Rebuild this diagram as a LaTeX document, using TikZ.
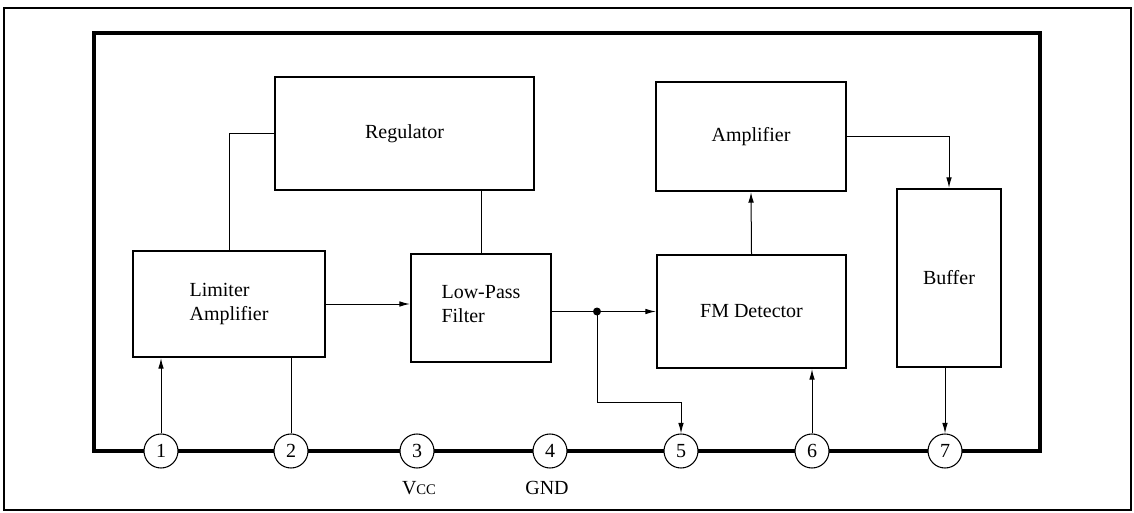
\documentclass[tikz,border=0pt]{standalone}
\usepackage{fontspec}
\setmainfont{Liberation Serif}
\usetikzlibrary{arrows.meta}
\tikzset{
  blk/.style={draw, line width=1.6pt, inner sep=0pt, font=\fontsize{15}{18}\selectfont, align=left},
  pin/.style={draw, circle, line width=0.8pt, fill=white, minimum size=25.5pt, inner sep=0pt, font=\fontsize{15}{18}\selectfont},
  wire/.style={line width=0.75pt},
  arr/.style={wire, -{Latex[length=8pt,width=4.2pt]}},
  lbl/.style={font=\fontsize{15}{18}\selectfont, inner sep=0pt}
}
\begin{document}
\begin{tikzpicture}[x=0.75pt,y=-0.75pt]
\useasboundingbox (0,0) rectangle (1134,513);
% outer frame
\draw[line width=1pt] (4,8) rectangle (1131,510);
% inner frame
\draw[line width=3pt] (94,33) rectangle (1040,451);
% blocks
\node[blk, minimum width=144pt, minimum height=79.5pt] (lim) at (229,304) {Limiter\\Amplifier};
\node[blk, minimum width=194.25pt, minimum height=84.75pt] (reg) at (404.5,133.5) {Regulator};
\node[blk, minimum width=105pt, minimum height=81pt] (lpf) at (481,308) {};
\node[lbl, align=left] (lpft) at (481,304) {Low-Pass\\Filter};
\node[blk, minimum width=141.75pt, minimum height=84.75pt] (fm) at (751.5,311.5) {FM Detector};
\node[blk, minimum width=142.5pt, minimum height=81.75pt] (amp) at (751,136.5) {Amplifier};
\node[blk, minimum width=78pt, minimum height=133.5pt] (buf) at (949,278) {Buffer};
% pins
\node[pin] (p1) at (161,451) {1};
\node[pin] (p2) at (291,451) {2};
\node[pin] (p3) at (417,451) {3};
\node[pin] (p4) at (550,451) {4};
\node[pin] (p5) at (681,451) {5};
\node[pin] (p6) at (812,451) {6};
\node[pin] (p7) at (945,451) {7};
\node[lbl] (vcc) at (419,488) {V{\fontsize{11}{12}\selectfont CC}};
\node[lbl] (gnd) at (547,488) {GND};
% connectors
\draw[wire] (reg.west) -| (lim.north);
\draw[wire] (reg.south -| lpf.north) -- (lpf.north);
\draw[arr] (lim.east) -- (lim.east -| lpf.west);
\coordinate (j) at (597,311.5);
\coordinate (jd) at (597,402);
\draw[wire] (lpf.east |- j) -- (j);
\draw[arr] (j) -- (j -| fm.west);
\fill (j) circle (3pt);
\draw[arr] (j) -- (jd) -| (p5.north);
\draw[arr] (p1.north) -- (p1.north |- lim.south);
\draw[wire] (p2.north) -- (p2.north |- lim.south);
\draw[arr] (p6.north) -- (p6.north |- fm.south);
\draw[arr] (fm.north) -- (amp.south);
\draw[arr] (amp.east) -| (buf.north);
\draw[arr] (p7.north |- buf.south) -- (p7.north);
\end{tikzpicture}
\end{document}
